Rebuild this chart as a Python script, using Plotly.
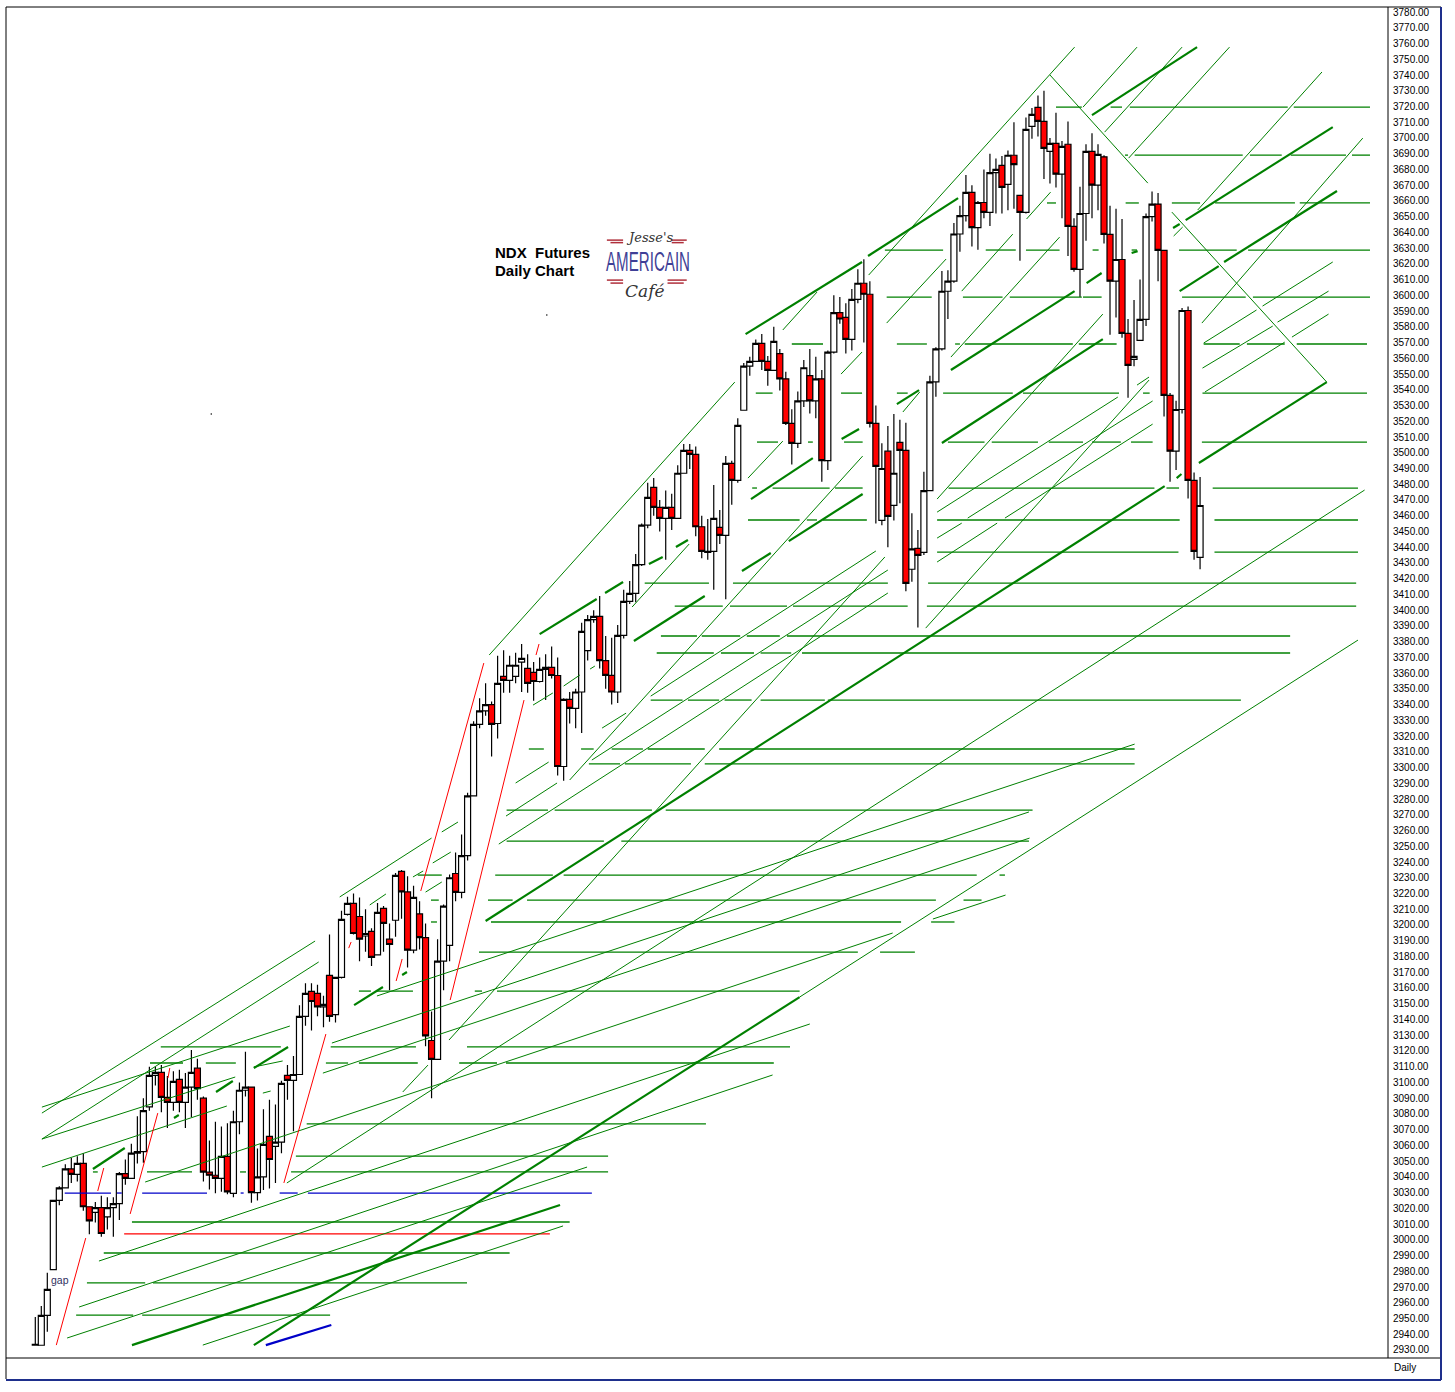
import plotly.graph_objects as go

bar_open = [2933,2933,2952,2981,3025,3033,3045,3041.5,3048.5,3021,3017.4,3020.4,3014.6,3020.4,3023,3042,3039,3055,3056,3084.5,
 3104.4,3106.4,3090.5,3087.3,3101.9,3087.3,3097,3109,3090,3043,3041,3039,3053,3029.5,3075,3095,3097,3030,3040,3065.7,
 3059.3,3062,3104.4,3101.3,3105,3142,3157.8,3156.5,3148,3168,3143,3166.7,3206.7,3213.7,3205.4,3193,3196,3181,3210.5,3191,
 3203,3234,3221,3184,3207,3192,3126.6,3114.6,3177,3187,3232.7,3220.7,3244,3282,3327.4,3336,3340,3328,3358,3355.4,
 3358,3367,3363,3360.5,3354.7,3362.4,3363.6,3358.5,3300.7,3343.3,3337.6,3348,3374.3,3394,3396,3368,3358.6,3348,3384,3405.6,
 3410.7,3429,3454,3478,3465.3,3458.3,3465.3,3458.3,3487,3501.5,3499,3453,3436.7,3437.4,3452.6,3447.5,3493.3,3482.5,3527,3555,
 3558,3569.5,3558,3552.4,3563,3547,3518.7,3506,3533,3549,3533,3547,3495,3564,3589,3586,3572,3597.5,3607.7,3600.7,
 3518.7,3457,3501,3466.6,3506.6,3501.5,3426,3439.3,3436.7,3476,3545,3566,3602.6,3609,3639,3650.6,3665.4,3643,3659,3652.7,
 3678,3682.6,3670.5,3689,3663.5,3652.7,3707.4,3719.4,3710.5,3691.5,3696.6,3677,3696,3643.8,3616.5,3652,3691.5,3670,3688,3638.7,
 3609,3622.8,3575.8,3559.3,3571.4,3584.7,3650,3658,3628.6,3536.4,3501,3527.5,3590.4,3482.4,3433.5]
bar_high = [2951,2958,2979,3025,3034,3048,3052,3053,3055,3021,3024,3028,3027,3027,3043,3051,3061,3078.5,3090,3110,
 3110,3111,3104,3107,3108,3106,3120.5,3115,3091,3063,3075,3072,3074,3082,3100,3119.5,3097,3058,3083,3089,
 3086,3101,3111,3116.7,3149,3163,3163,3162,3155,3194,3167,3209,3218,3220,3217.5,3210,3198,3214,3212,3201,
 3233,3235,3231,3225,3215,3201,3145,3191,3213,3232,3246,3257.5,3284,3329.5,3344,3353.5,3342,3371,3374.6,3371,
 3373,3378.5,3372,3367,3370,3372,3377,3370,3344,3348,3350,3392,3397,3400,3409,3383.6,3382.5,3390.6,3413,3418.5,
 3435.7,3455,3481,3484,3470,3476,3474,3492,3505.6,3505.6,3504,3460,3458,3479.5,3463.6,3498,3495,3522,3557,3561,
 3572,3575.5,3561.5,3580,3566,3551.5,3527.6,3539,3559,3566,3561,3552.6,3565,3600,3599,3595,3604,3616.6,3623,3609,
 3530,3506,3517,3524.6,3521,3519,3461.5,3451,3488,3549,3567,3615.5,3616,3646,3657,3676.5,3670,3660,3680,3690,
 3687,3688.5,3692,3710,3664,3713,3719,3727,3730,3700,3716,3698,3710.5,3649,3669,3696,3703,3696,3689,3657,
 3655,3648.5,3585,3597,3610,3652,3666,3665,3629,3538,3533,3592,3593,3487.5,3484.6]
bar_low = [2933,2933,2941.5,2981,3022,3033,3036,3037,3018.5,3003.5,3011,3002,3006.5,3002,3012.5,3035,3039,3048.5,3049,3082,
 3098,3081,3071,3082,3081,3071,3078,3089,3037,3032,3029.5,3030.5,3029,3027,3067,3091,3023.5,3025,3031.6,3032.6,
 3036,3055,3089,3069,3105,3136,3133,3142,3135,3138.5,3138,3166,3206,3194,3177,3183,3174,3181,3183,3158.6,
 3192.5,3204,3173,3182,3184.5,3123,3090,3114.6,3158.6,3177,3215,3217,3241,3282,3325,3333,3307,3318.5,3347.5,3347.5,
 3353.5,3348,3347.5,3342.5,3354,3343,3356.6,3295,3291.6,3328,3325,3322,3368,3392,3363,3350,3340,3341,3382,3404,
 3405,3428,3452,3460,3450,3432,3451,3458,3487,3489.7,3447,3433,3432,3413,3442,3407,3467,3481,3527,3549,
 3558,3552.6,3542.6,3552,3539.5,3517.6,3492.6,3503,3529,3525,3522,3481.6,3489,3563,3582,3563,3565,3595,3570,3516,
 3455,3454,3440,3457,3468,3412,3418,3389,3435,3476,3535.6,3565,3585,3608,3627.7,3647,3631,3629,3649,3644,
 3652,3652,3654,3655,3622,3652,3699.5,3701,3674,3671,3668.6,3649,3625,3615,3599,3634.7,3649,3654,3633,3575,
 3586,3573,3535,3555,3571,3580.5,3647,3609,3523,3481.6,3489,3525,3471,3432,3426]
bar_close = [2933.5,2952,2968.5,3025,3033,3045,3041.5,3048.5,3021,3012,3020.4,3004,3020.4,3023,3042,3039,3055,3056,3082,3104.4,
 3106.4,3090.5,3087.3,3100.6,3087.3,3097,3106.4,3096,3043,3041,3039,3053,3030.5,3075,3095,3097,3030,3040,3060.6,3051,
 3062,3099.4,3101.3,3105,3142,3156.5,3151.4,3148,3149.5,3142,3166.7,3203.5,3213.7,3194.6,3191,3194.6,3179.4,3208,3201,3187.6,
 3231.5,3221,3184,3217.5,3192,3129.6,3114.6,3177,3212,3230,3220.7,3244,3282,3327.4,3336,3340,3327.4,3353.5,3355.4,3365,
 3365,3369.4,3353.5,3354.7,3362.4,3363.6,3358.5,3300.7,3343.3,3337.6,3348,3386.5,3394,3396,3368,3358.6,3348,3384,3405.6,3410.7,
 3429,3454,3471.7,3465.3,3458.3,3465.3,3458.3,3487,3501.5,3499,3453,3437.4,3437.4,3458.3,3447.5,3493.3,3482.5,3517.4,3555,3558,
 3569.5,3558,3552.4,3570.8,3547,3518.7,3506,3533,3554,3533,3547,3495,3564,3589,3585,3572,3597.5,3607.7,3600.7,3518.7,
 3491.4,3490,3459.6,3487,3501.5,3417,3439,3434.8,3476,3545,3566,3602.6,3609,3639,3650.6,3665.4,3643,3659,3652.7,3678,
 3680,3668.6,3689,3683,3652.7,3705.5,3715,3710.5,3693.4,3696.6,3677,3694.7,3643.8,3616.5,3652,3691.5,3670,3689.6,3638.7,3609,
 3622.8,3575.8,3555.5,3561.2,3584.7,3650,3658,3628.6,3536.4,3501,3527.5,3590.4,3482.4,3437.3,3466.5]
bar_index = list(range(len(bar_close)))

green_levels = [3719.6,3689.1,3658.7,3628.8,3598.9,3569.1,3537.9,3506.8,3477.6,3457.3,3436.9,3417.2,3402.6,3383.6,3372.8,3342.9,3311.8,3302.3,3273,3253.3,3231.7,3215.8,3201.9,3182.8,3158,3122.5,3112.3,3073.6,3053.2,3043.1,3011.3,2991.6,2972.6,2952.2]
green_spans = [
 [(170,174.3),(179.1,181),(182.3,208.6),(209.6,222.3)],
 [(181.5,182),(183.1,201.1),(202.3,207.6),(209.1,218.3),(219.3,222.3)],
 [(168.5,170),(181.6,183.8),(189.3,194),(196.5,209.8),(210.6,222.3)],
 [(141.5,151.2),(158.3,163.3),(165,170.6),(176.1,177.1),(182.6,183.5),(190.5,200.1),(202,222.3)],
 [(141.8,149.3),(154.5,161.1),(162.3,174.3),(174.5,177.6),(191,201.6),(202.8,222.3)],
 [(126,131.2),(143.5,148.5),(153.2,154),(154.8,172.8),(173.8,180.1),(194.6,200.6),(201.8,208.1),(210.1,221.8)],
 [(120,122.8),(134.2,137.7),(143.5,145.3),(151.2,162.8),(164.5,180.5),(184.5,185.6),(194.4,221.8)],
 [(120.2,123.7),(128.7,129.5),(134.7,137.8),(152,158.1),(159.3,167),(168.8,174.5),(176,180.8),(182.5,186.1),(194.3,221.8)],
 [(119.4,120.2),(122.8,132.3),(133.2,137.8),(152.1,186.4),(188.4,190.5),(196.1,220.3)],
 [(118.7,127.3),(128.5,130.2),(131.2,138.5),(150.2,190.6),(196.4,220.3)],
 [(150.2,190.4),(196.4,220.3)],
 [(101.5,112.2),(116.2,142),(148.7,220)],
 [(106.5,114.5),(115.7,125.2),(126.2,145.3),(148.5,220)],
 [(104.2,110.2),(111,117.4),(118.5,124),(125.2,209)],
 [(103.5,113),(114.2,119.7),(120.8,125.9),(127.7,209)],
 [(102.5,107.8),(108.7,113.9),(114.8,119.3),(120.8,131.5),(132,200.8)],
 [(82.2,84.7),(90.9,93),(96,101.2),(102,111.5),(113.9,183.1)],
 [(92.2,97.4),(98.2,109.2),(111.5,183.1)],
 [(78.5,85.4),(86.5,102.7),(105,166.1)],
 [(78.5,94.7),(97.6,165.5)],
 [(63.7,67.7),(76.6,86.2),(88,156.8),(160.6,161.5)],
 [(65.9,67.2),(75.4,79.5),(81.9,150),(154.6,157.6)],
 [(65.9,66.9),(75.9,144.2),(149.2,153.1)],
 [(73.9,137),(140.7,146.5)],
 [(53.9,55.9),(56.9,62.9),(73.2,74.4),(76.9,127.3)],
 [(20.9,40.9),(49.2,63.4),(71.9,125.7)],
 [(19.1,24.6),(28.4,33.4),(48.4,52.1),(53.9,63.7),(70.6,76.9),(78.4,123)],
 [(45.2,111.7)],
 [(43.4,95.4)],
 [(9.6,10.4),(18.6,26.1),(34.1,35.1),(42.6,95.4)],
 [(16.1,89)],
 [(11.4,79)],
 [(8.6,18.3),(19.6,71.9)],
 [(6.8,16.3),(17.8,49.1)],
]
blue_level = 3029.7
blue_spans = [(4.9,12.6),(13.6,14.4),(17.8,28.6),(34.2,34.7),(40.7,43.7),(45.4,92.7)]
red_level = 3003.7
red_span = (14.8,85.7)

thin_trends = [
 (75.6,3371.5,116.5,3544.9),(138.8,3612.9,173.1,3757.7),(169,3740,185.3,3671.3),(189.3,3652.9,215.1,3544.9),
 (174.5,3719.6,183.5,3757.7),(178.1,3703.7,191,3757.7),(182.1,3687.2,198.9,3757.7),(193.6,3654.2,214.3,3741.9),
 (189.6,3637.7,191.1,3643.4),(194.3,3582.4,221.1,3699.9),(194.6,3569.7,203.4,3590.7),(204.4,3593.2,216.1,3621.2),
 (194.4,3553.8,206.1,3580.5),(206.9,3583,215.4,3602.7),(194.8,3538.6,208.1,3570.3),(209.3,3573.5,215.4,3588.1),
 (154.3,3602.7,162.8,3638.9),(165.1,3648.5,169.1,3665.6),(152.5,3560.8,170.6,3637),(150.2,3470.6,177.8,3588.1),
 (150.2,3462.3,180.3,3535.4),(150.2,3445.8,154.3,3455.3),(155.3,3458.5,186.1,3532.9),(150.2,3430.6,160.2,3455.3),
 (161.5,3458.5,186.1,3518.2),(148.3,3388.6,185.5,3546.2),(183.5,3543,185.5,3548.1),(141.8,3582.4,151.7,3623.1),
 (134.2,3550,137.7,3564),(144.5,3525.9,147.3,3538.6),(124.5,3578,130.2,3602.1),(89,3292.1,137.8,3497.9),
 (80,3290.2,85.5,3303.5),(94.4,3325.1,98.4,3334.6),(102.5,3345.4,140,3437.6),(78.4,3269.2,86.9,3290.2),
 (92.7,3304.8,142,3425.5),(77.2,3251.4,142,3410.9),(61.2,3093.9,65.4,3111),(68.9,3126.9,141.5,3433.8),
 (99.4,3402,108.9,3442),(118.7,3483.9,124.5,3507.4),(82.9,3339.7,86.2,3347.4),(88,3351.8,90.7,3358.8),
 (92.4,3362.6,93.2,3364.5),(1.1,3080.5,46.6,3189.8),(1.1,3064,47.2,3176.5),(1.1,3084.3,42.4,3135.8),
 (1.1,3064,33.3,3103.4),(1.1,3046.2,31.9,3085),(50.7,3217.8,66,3255.2),(55.7,3212.7,58.4,3219.7),
 (62.9,3230.5,64.6,3234.3),(66.2,3239.4,69.2,3246.3),(67.7,3259.1,70.4,3265.4),(65,3220.9,67.7,3227.3),
 (56.9,3154.9,183.1,3314.9),(49.4,3125,165.5,3271.8),(47.9,3105.9,165.6,3255.2),(18.3,3036.7,142.8,3194.9),
 (10.6,2986.5,129,3137.1),(7.3,2957.3,122.8,3104.7),(149.5,3203.8,161.6,3219),(5.3,2937.6,91.9,3046.2),
 (27.9,2933.1,87.9,3008.8),(41.9,3036.1,221.4,3476.3),(127.3,3154.2,220.3,3381),(36.4,3109.8,41.2,3113.6),
 (37.9,3093.2,39.2,3094.5),
]
thick_trends = [
 (118.3,3575.4,137.7,3621.2),(138.7,3625,153.7,3661.8),(176,3714.5,193.5,3757.7),(191.6,3647.8,216.1,3706.9),
 (198,3621.2,216.8,3666.3),(190.6,3602.7,197.1,3618.6),(193.8,3493.5,215.1,3544.9),(152.5,3552.6,173.1,3602.7),
 (151,3506.2,177.8,3572.2),(75,3202.5,188.1,3478.8),(84,3384.8,93.5,3407.1),(94.9,3410.9,97.9,3417.9),
 (99.7,3380.4,111.5,3409),(102.2,3429.3,104.5,3433.8),(106.7,3440.1,108.7,3444.6),(119.2,3470.6,129.5,3496.6),
 (117.7,3424.9,122.5,3436.3),(125.5,3443.9,137.8,3473.8),(143.5,3530.9,147.2,3539.8),(134.3,3508.7,137.2,3515.1),
 (175.1,3607.8,177.6,3614.2),(189.5,3642.8,190.6,3645.3),(182.6,3626.9,183.6,3628.1),(190.1,3483.9,190.9,3486.5),
 (53.1,3149.1,57.9,3160.6),(61.1,3168.2,61.9,3170.1),(36.4,3109.1,42.1,3122.5),(30.1,3093.9,32.9,3100.9),
 (9.6,3045,14.9,3058.3),(16.1,2933.1,87.4,3022.1),(36.4,2933.1,127.3,3154.2),(23.1,3077.4,23.9,3079.3),
]
blue_trend = [(38.4,2933.1,49.3,2945.9)]
red_trends = [
 (3.5,2933.1,8.4,3001.1),(10.4,3031,11.4,3045.6),(15.8,3016.4,20.4,3080.5),(22.1,3102.8,22.4,3109.1),
 (41.4,3036.1,48.4,3130.7),(52.2,3185.3,52.6,3189.2),(60.1,3164.4,61.1,3178.4),(64.2,3221.6,74.7,3366.4),
 (69.1,3152.3,81.4,3342.9),(83.4,3371.5,83.9,3378.5),
]
logo_stripes = [(95.2,3635.1,97.9,3635.1),(95.8,3633.5,97.9,3633.5),(106,3635.1,108.5,3635.1),(106,3633.5,108,3633.5),
                (95.2,3609.7,97.9,3609.7),(95.8,3607.8,97.9,3607.8),(105.3,3609.7,108.5,3609.7),(105.3,3607.8,108,3607.8)]
specks_x = [85.2,29.3]
specks_y = [3587.5,3524.6]
title_lines = ["NDX\u00a0\u00a0Futures","Daily Chart"]


def seg_xy(segs):
    xs, ys = [], []
    for a, b, c, d in segs:
        xs += [a, c, None]
        ys += [b, d, None]
    return xs, ys


def level_xy(levels, spans):
    segs = []
    for lv, sp in zip(levels, spans):
        for a, b in sp:
            segs.append((a, lv, b, lv))
    return seg_xy(segs)


def line_trace(xy, color, width):
    return go.Scatter(x=xy[0], y=xy[1], mode="lines", line=dict(color=color, width=width),
                      hoverinfo="skip", showlegend=False)


GREEN = "#008000"
fig = go.Figure()
fig.add_trace(line_trace(level_xy(green_levels, green_spans), GREEN, 1.3))
fig.add_trace(line_trace(level_xy([blue_level], [blue_spans]), "#0000c8", 1.3))
fig.add_trace(line_trace(level_xy([red_level], [[red_span]]), "#ff0000", 1.3))
fig.add_trace(line_trace(seg_xy(thin_trends), GREEN, 1))
fig.add_trace(line_trace(seg_xy(thick_trends), GREEN, 2.2))
fig.add_trace(line_trace(seg_xy(blue_trend), "#0000c8", 2.2))
fig.add_trace(line_trace(seg_xy(red_trends), "#ff0000", 1))
fig.add_trace(line_trace(seg_xy(logo_stripes), "#b0303c", 1.5))
fig.add_trace(go.Scatter(x=specks_x, y=specks_y, mode="markers", marker=dict(color="black", size=1.5),
                         hoverinfo="skip", showlegend=False))
fig.add_trace(go.Candlestick(
    x=bar_index, open=bar_open, high=bar_high, low=bar_low, close=bar_close,
    increasing=dict(line=dict(color="black", width=1.2), fillcolor="white"),
    decreasing=dict(line=dict(color="black", width=1.2), fillcolor="#ff0000"),
    whiskerwidth=0, showlegend=False, hoverinfo="skip"))

anns = [
    dict(x=76.2, y=3627.3, text="<b>" + title_lines[0] + "</b>", font=dict(family="Liberation Sans", size=15, color="black"), xanchor="left"),
    dict(x=76.2, y=3615.8, text="<b>" + title_lines[1] + "</b>", font=dict(family="Liberation Sans", size=15, color="black"), xanchor="left"),
    dict(x=102.3, y=3636.9, text="<i>Jesse's</i>", font=dict(family="DejaVu Serif", size=13, color="#333333")),
    dict(x=102, y=3621.2, text="AMERICAIN", font=dict(family="Liberation Sans", size=27, color="#3f3f96")),
    dict(x=101.5, y=3603, text="<i>Café</i>", font=dict(family="DejaVu Serif", size=17, color="#333333")),
    dict(x=4.1, y=2974.4, text="gap", font=dict(family="Liberation Sans", size=10.5, color="#303060")),
]
for a in anns:
    a.update(showarrow=False, xref="x", yref="y", yanchor="middle")
anns.append(dict(x=(1405 - 6) / 1382, y=-9 / 1351, xref="paper", yref="paper", text="Daily",
                 showarrow=False, xanchor="center", yanchor="middle",
                 font=dict(family="Liberation Sans", size=10, color="black")))

frame = [
    dict(x0=0, x1=1435 / 1382, y0=1, y1=1, color="black", w=1),
    dict(x0=0, x1=0, y0=-21 / 1351, y1=1, color="black", w=1),
    dict(x0=1, x1=1, y0=0, y1=1, color="black", w=1),
    dict(x0=0, x1=1435 / 1382, y0=0, y1=0, color="black", w=1),
    dict(x0=1435 / 1382, x1=1435 / 1382, y0=-22 / 1351, y1=1, color="#1e2f8c", w=2),
    dict(x0=0, x1=1435 / 1382, y0=-22 / 1351, y1=-22 / 1351, color="#1e2f8c", w=2),
]
shapes = [dict(type="line", xref="paper", yref="paper", x0=f["x0"], x1=f["x1"], y0=f["y0"], y1=f["y1"],
               line=dict(color=f["color"], width=f["w"]), layer="above") for f in frame]

fig.update_layout(
    width=1455, height=1392, autosize=False,
    margin=dict(l=6, r=67, t=7, b=34, pad=0),
    paper_bgcolor="white", plot_bgcolor="white",
    boxgap=0, boxgroupgap=0,
    annotations=anns, shapes=shapes, showlegend=False,
    font=dict(family="Liberation Sans", color="black"),
)
fig.update_xaxes(range=[-4.88, 225.3], visible=False, rangeslider=dict(visible=False), showgrid=False)
fig.update_yaxes(range=[2924.9, 3783.2], side="right", dtick=10, tick0=0, tickformat=".2f", showgrid=False,
                 zeroline=False, showline=False, ticks="outside", ticklen=2, tickcolor="white",
                 tickfont=dict(family="Liberation Sans", size=10, color="black"))

squeeze = """
document.body.style.margin='0';document.body.style.overflow='hidden';
function squeezeLogo(){document.querySelectorAll('.annotation-text').forEach(function(t){
 if(t.textContent==='AMERICAIN'){t.setAttribute('textLength','84');t.setAttribute('lengthAdjust','spacingAndGlyphs');}});}
squeezeLogo();setTimeout(squeezeLogo,50);setTimeout(squeezeLogo,300);
"""
fig.write_html("out.html", post_script=squeeze, config=dict(displayModeBar=False))
